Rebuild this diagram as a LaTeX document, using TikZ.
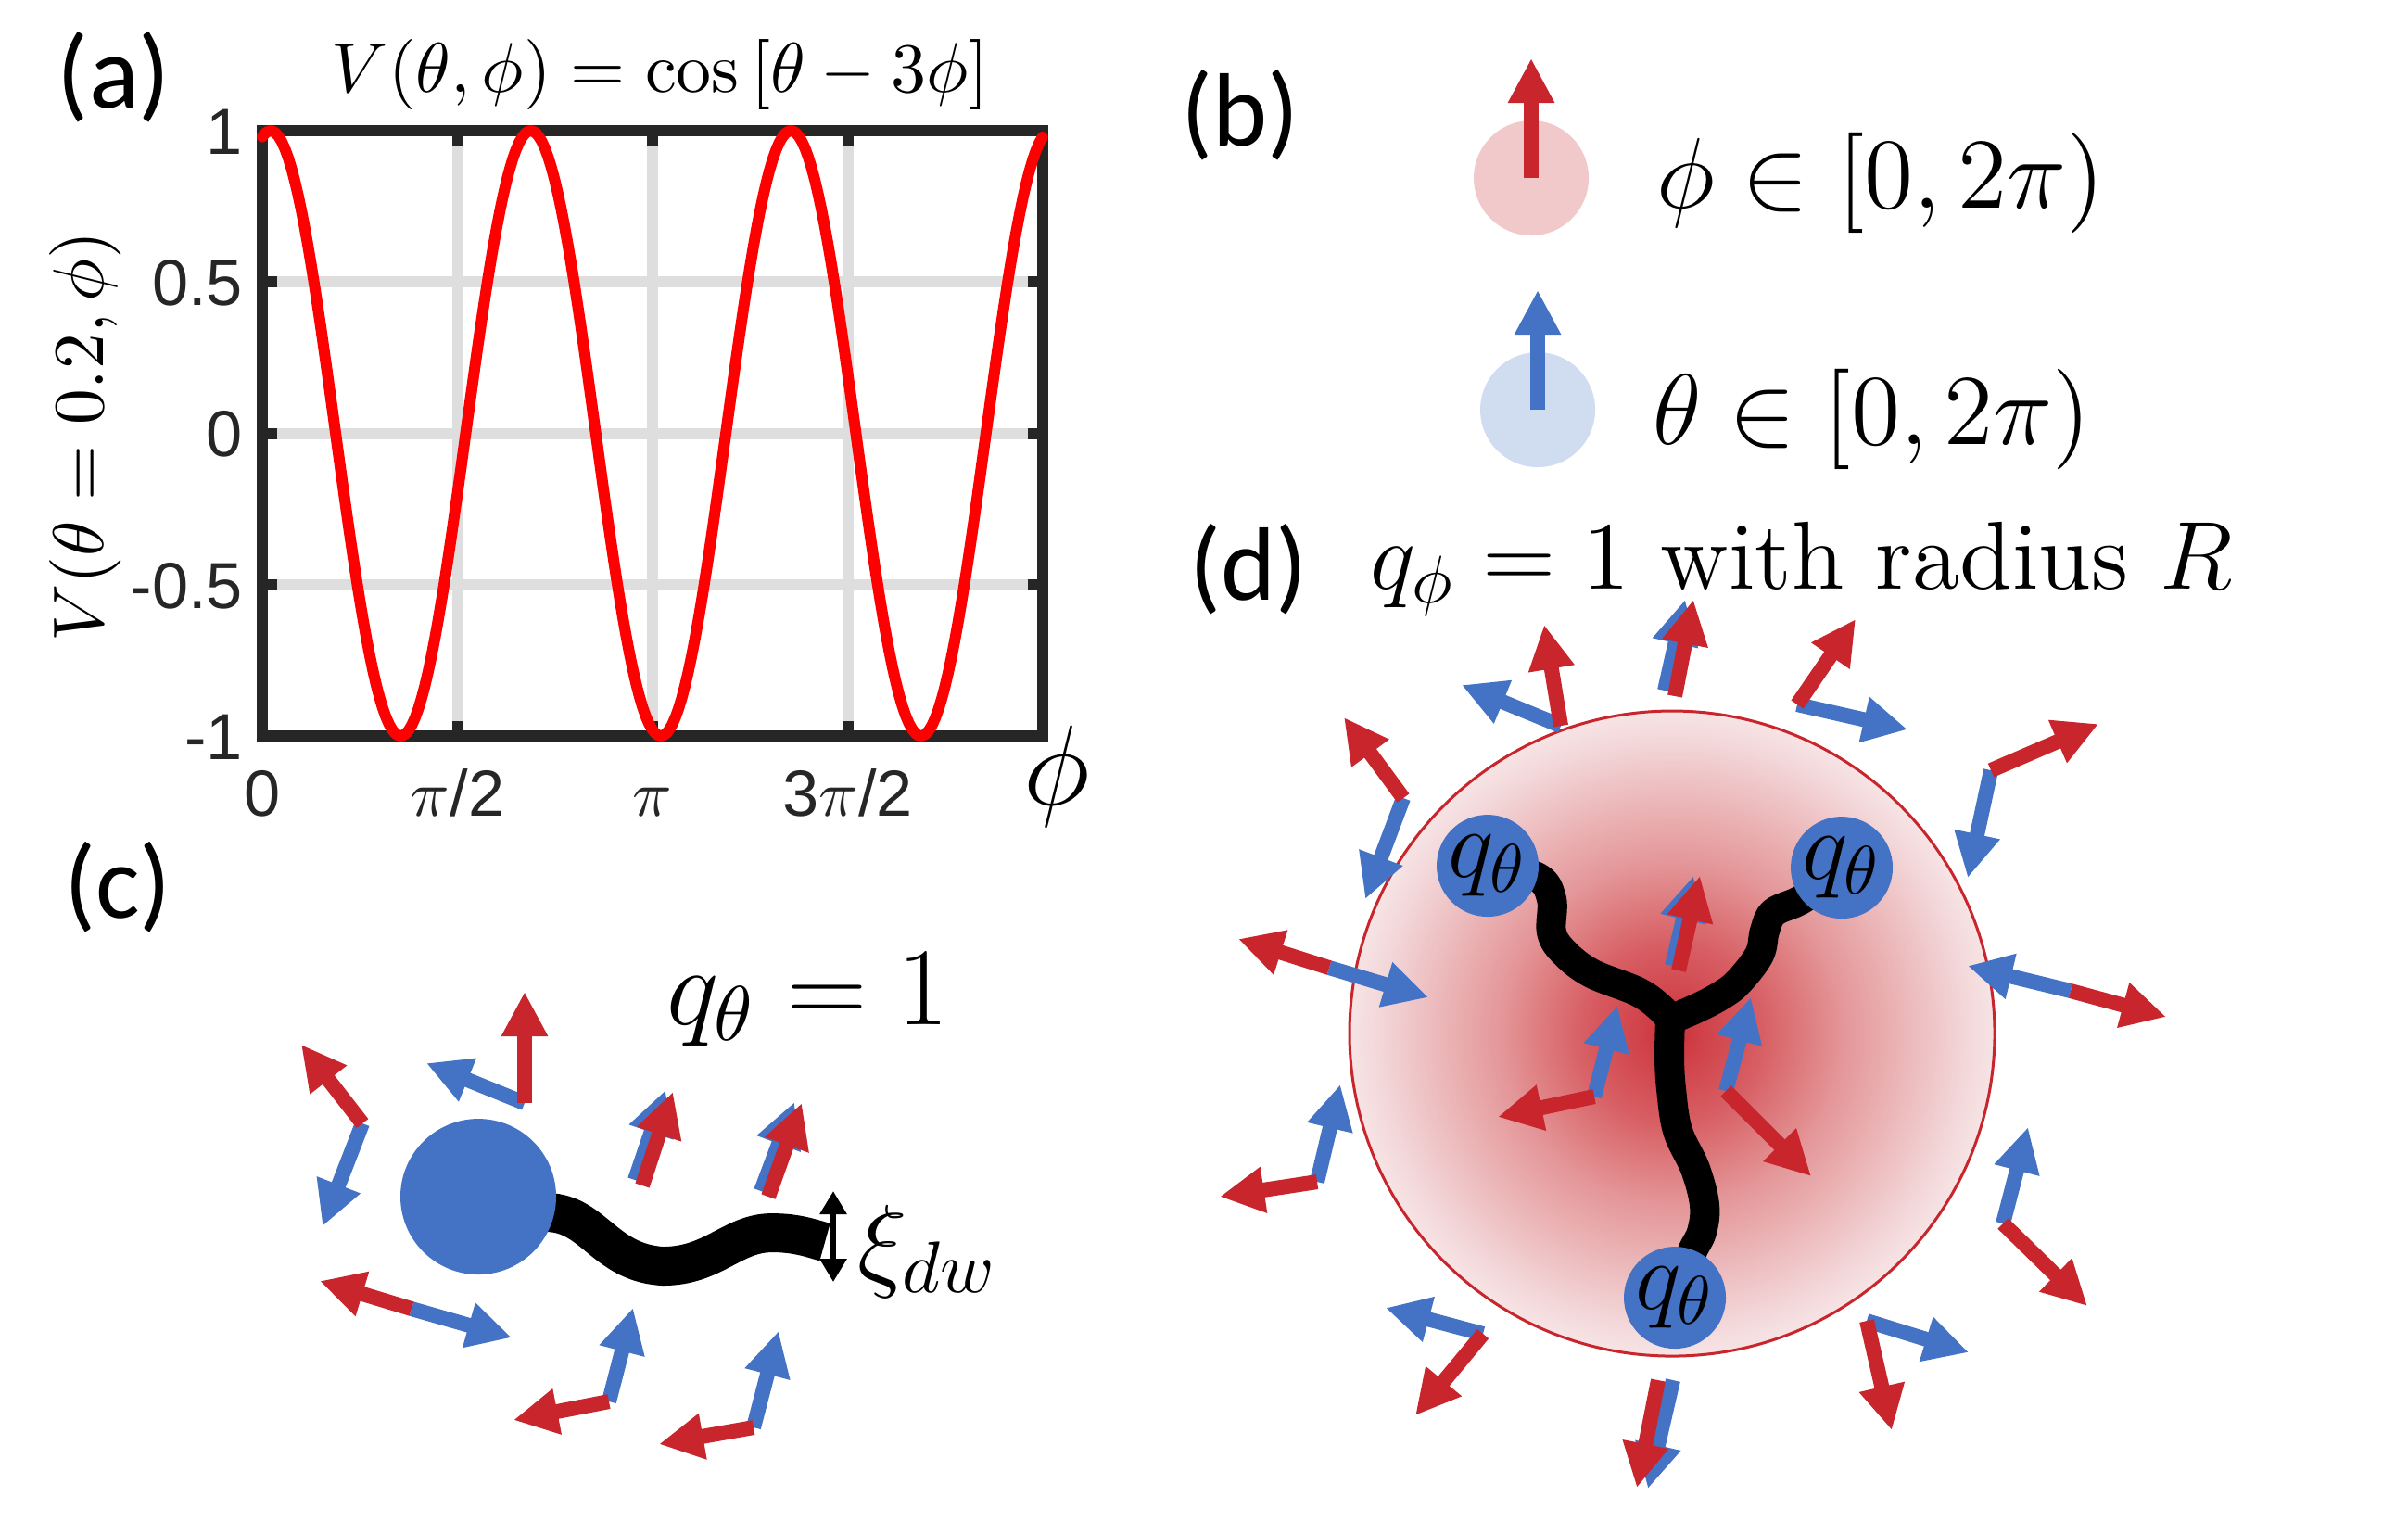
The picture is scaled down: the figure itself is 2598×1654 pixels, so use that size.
\RequirePackage{fix-cm}
\documentclass[tikz,border=0pt]{standalone}
\usepackage{fontspec}
\newfontfamily\panelfont{Carlito}
\newfontfamily\tickfont{Liberation Sans}
\usetikzlibrary{arrows.meta}
\definecolor{phired}{RGB}{200,37,44}
\definecolor{thetablue}{RGB}{68,114,196}
\definecolor{curvered}{RGB}{255,0,0}
\definecolor{axisgray}{RGB}{38,38,38}
\definecolor{gridgray}{RGB}{222,222,222}
\definecolor{phicore}{RGB}{205,50,58}
\definecolor{phiinner}{RGB}{215,95,100}
\definecolor{phimid}{RGB}{228,150,152}
\definecolor{phiouter}{RGB}{243,215,217}
\definecolor{phirim}{RGB}{247,228,229}
\pgfdeclareradialshading{phiblob}{\pgfpoint{0bp}{0bp}}{color(0bp)=(phicore); color(7bp)=(phiinner); color(13.25bp)=(phimid); color(22.75bp)=(phiouter); color(25bp)=(phirim); color(50bp)=(phirim)}
\begin{document}
\begin{tikzpicture}[x=0.05mm, y=-0.05mm,
    every node/.style={inner sep=0pt, outer sep=0pt},
    panel/.style={font=\panelfont\fontsize{16}{19}\selectfont},
    ticklab/.style={font=\tickfont\fontsize{10}{12}\selectfont, text=axisgray},
    gridline/.style={gridgray, line width=0.6mm},
    axisline/.style={axisgray, line width=0.6mm},
    parr/.style={phired, line width=0.8mm, -{Triangle[length=2.4mm, width=2.35mm]}},
    tarr/.style={thetablue, line width=0.8mm, -{Triangle[length=2.4mm, width=2.35mm]}},
    qdisk/.style={circle, fill=thetablue, minimum size=5.5mm, font=\fontsize{15}{18}\selectfont},
    wall/.style={line width=1.6mm, line cap=round, line join=round}]
\useasboundingbox (0,0) rectangle (2598,1654);

% (a)
\node[panel] (lbla) at (123,83) {(a)};
\node[font=\fontsize{10.8}{13}\selectfont] (titlea) at (712,80) {$V(\theta,\phi)=\cos\left[\theta-3\phi\right]$};
\draw[gridline] (493.5,141) -- (493.5,794);
\draw[gridline] (704,141) -- (704,794);
\draw[gridline] (914.5,141) -- (914.5,794);
\draw[gridline] (283,304) -- (1125,304);
\draw[gridline] (283,467.5) -- (1125,467.5);
\draw[gridline] (283,631) -- (1125,631);
\draw[axisline] (283,141) rectangle (1125,794);
\draw[axisline] (493.5,141) -- (493.5,157) (704,141) -- (704,157) (914.5,141) -- (914.5,157)
    (493.5,794) -- (493.5,778) (704,794) -- (704,778) (914.5,794) -- (914.5,778)
    (283,304) -- (299,304) (283,467.5) -- (299,467.5) (283,631) -- (299,631)
    (1125,304) -- (1109,304) (1125,467.5) -- (1109,467.5) (1125,631) -- (1109,631);
\draw[curvered, line width=0.6mm, line cap=round, line join=round, domain=0:6.2832, samples=241]
    plot ({283+842*\x/6.2832}, {467.5-326.5*cos(deg(0.2-3*\x))});
\node[ticklab, anchor=base east] (ya) at (262,166) {1};
\node[ticklab, anchor=base east] (yb) at (262,329) {0.5};
\node[ticklab, anchor=base east] (yc) at (262,492.5) {0};
\node[ticklab, anchor=base east] (yd) at (262,656) {-0.5};
\node[ticklab, anchor=base east] (ye) at (262,819) {-1};
\node[ticklab, anchor=base] (xa) at (283,880) {0};
\node[ticklab, anchor=base] (xb) at (493.5,880) {$\pi$/2};
\node[ticklab, anchor=base] (xc) at (704,880) {$\pi$};
\node[ticklab, anchor=base] (xd) at (914.5,880) {3$\pi$/2};
\node[font=\fontsize{17.5}{20}\selectfont, anchor=base] (xlab) at (1140,868) {$\phi$};
\node[font=\fontsize{11}{13}\selectfont, rotate=90] (ylab) at (92,471) {$V(\theta=0.2,\phi)$};

% (b)
\node[panel] (lblb) at (1338,124) {(b)};
\node[circle, minimum size=6.2mm, fill=phired!25] (phidisk) at (1652,192) {};
\coordinate (phitip) at (1652,63);
\draw[parr] (phidisk.center) -- (phitip);
\node[circle, minimum size=6.2mm, fill=thetablue!25] (thetadisk) at (1659,442) {};
\coordinate (thetatip) at (1659,313);
\draw[tarr] (thetadisk.center) -- (thetatip);
\node[font=\fontsize{15.4}{18}\selectfont, anchor=base west] (phirange) at (1787,224) {$\phi\in[0,2\pi)$};
\node[font=\fontsize{15.4}{18}\selectfont, anchor=base west] (thetarange) at (1783,479) {$\theta\in[0,2\pi)$};

% (c)
\node[panel] (lblc) at (127,957) {(c)};
\node[font=\fontsize{17}{20}\selectfont, anchor=base west] (qone) at (719,1105) {$q_\theta=1$};
\coordinate (vc) at (516,1291);
\draw[line width=2.1mm] ([shift={(70,17)}]vc) .. controls (640,1306) and (650,1362) .. (715,1366)
    .. controls (770,1366) and (790,1330) .. (833,1330) .. controls (860,1330) and (875,1336) .. (890,1340);
\node[circle, fill=thetablue, minimum size=8.4mm] (vortex) at (vc) {};
\coordinate (xitop) at (899,1285);
\coordinate (xibot) at (899,1383);
\draw[line width=0.3mm, {Triangle[length=1.25mm, width=1.4mm]}-{Triangle[length=1.25mm, width=1.4mm]}] (xitop) -- (xibot);
\node[font=\fontsize{16}{19}\selectfont, anchor=base west] (xilab) at (925,1378) {$\xi_{dw}$};
\draw[tarr] (391,1212) -- (348,1323); \draw[parr] (391,1212) -- (325,1127);
\draw[tarr] (566,1190) -- (460,1147); \draw[parr] (566,1190) -- (566,1070);
\draw[tarr] (685,1273) -- (718,1176); \draw[parr] (693,1279) -- (726,1178);
\draw[tarr] (821,1285) -- (857,1189); \draw[parr] (829,1291) -- (865,1190);
\draw[tarr] (444,1412) -- (552,1443); \draw[parr] (444,1412) -- (345,1382);
\draw[tarr] (657,1512) -- (683,1411); \draw[parr] (657,1512) -- (554,1532);
\draw[tarr] (813,1540) -- (840,1436); \draw[parr] (813,1540) -- (711,1558);

% (d)
\node[panel] (lbld) at (1347,614) {(d)};
\node[font=\fontsize{14.8}{18}\selectfont, anchor=base west] (dtitle) at (1478,635) {$q_\phi=1$ with radius $R$};
\node[circle, minimum size=34.8mm, draw=phired, line width=0.15mm, shade, shading=phiblob] (domain) at (1804,1115) {};
\coordinate (qa) at (1605,934);
\coordinate (qb) at (1987,936);
\coordinate (qc) at (1807,1400);
\coordinate (ja) at (1802,1100);
\draw[wall] plot[smooth, tension=0.6] coordinates {(qa) (1658,946) (1674,970) (1674,1006) (1688,1028) (1717,1050) (1767,1070) (1792,1088) (ja)};
\draw[wall] plot[smooth, tension=0.6] coordinates {(ja) (1830,1088) (1855,1075) (1875,1060) (1898,1030) (1904,1004) (1914,984) (1946,969) (qb)};
\draw[wall] plot[smooth, tension=0.6] coordinates {(ja) (1801,1140) (1803,1175) (1810,1220) (1829,1261) (1839,1300) (1836,1329) (1825,1352) (qc)};
\node[qdisk] (qtl) at (qa) {$q_\theta$};
\node[qdisk] (qtr) at (qb) {$q_\theta$};
\node[qdisk] (qbot) at (qc) {$q_\theta$};
\draw[tarr] (1514,861) -- (1473,970); \draw[parr] (1514,861) -- (1450,774);
\draw[tarr] (1684,783) -- (1577,739); \draw[parr] (1684,783) -- (1666,674);
\draw[tarr] (1796,745) -- (1818,647); \draw[parr] (1807,751) -- (1827,647);
\draw[tarr] (1434,1044) -- (1541,1076); \draw[parr] (1434,1044) -- (1336,1013);
\draw[tarr] (1804,1042) -- (1827,945); \draw[parr] (1811,1047) -- (1834,945);
\draw[tarr] (1720,1183) -- (1745,1085); \draw[parr] (1720,1183) -- (1616,1205);
\draw[tarr] (1939,760) -- (2058,787); \draw[parr] (1939,760) -- (2002,668);
\draw[tarr] (2148,831) -- (2123,947); \draw[parr] (2148,831) -- (2264,781);
\draw[tarr] (2234,1069) -- (2123,1042); \draw[parr] (2234,1069) -- (2337,1097);
\draw[tarr] (1862,1177) -- (1889,1076); \draw[parr] (1862,1177) -- (1954,1269);
\draw[tarr] (2161,1320) -- (2188,1216); \draw[parr] (2161,1320) -- (2252,1409);
\draw[tarr] (2014,1425) -- (2124,1459); \draw[parr] (2014,1425) -- (2041,1543);
\draw[tarr] (1421,1275) -- (1446,1170); \draw[parr] (1421,1275) -- (1316,1291);
\draw[tarr] (1600,1439) -- (1495,1411); \draw[parr] (1600,1439) -- (1527,1527);
\draw[tarr] (1805,1489) -- (1778,1606); \draw[parr] (1789,1489) -- (1766,1605);
\end{tikzpicture}
\end{document}
